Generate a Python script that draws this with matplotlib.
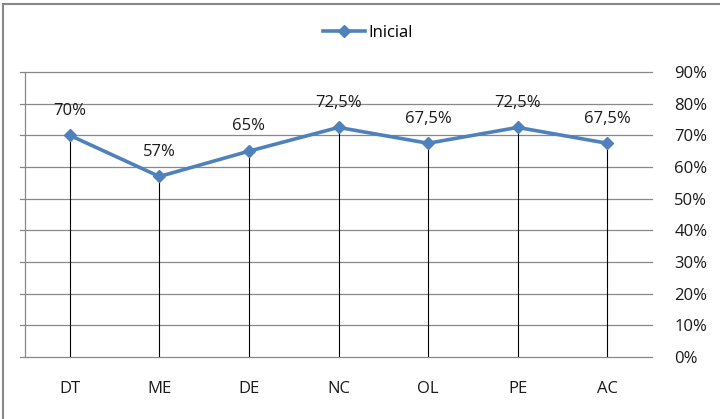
import matplotlib
matplotlib.use("Agg")
import matplotlib.pyplot as plt
from matplotlib.patches import Rectangle

categories = ["DT", "ME", "DE", "NC", "OL", "PE", "AC"]
values = [70, 57, 65, 72.5, 67.5, 72.5, 67.5]
labels = ["70%", "57%", "65%", "72,5%", "67,5%", "72,5%", "67,5%"]
yticks = [0, 10, 20, 30, 40, 50, 60, 70, 80, 90]
series_name = "Inicial"

plt.rcParams['font.family'] = ['Open Sans', 'DejaVu Sans']

fig = plt.figure(figsize=(7.2, 4.19), dpi=100)
# plot area (gridlines) from x=20 to 652, category band from 25 to 652
ax = fig.add_axes([20/720, 1-357/419, (652-20)/720, (357-72)/419])

color = "#4F81BD"
x = list(range(len(categories)))
n = len(categories)
step_px = (652 - 25) / n
extra = 5 / step_px

for xi, v in zip(x, values):
    ax.plot([xi, xi], [0, v], color="#000000", lw=0.8, zorder=2)

line, = ax.plot(x, values, color=color, lw=2.6, marker="D", markersize=6.5,
                markeredgecolor=color, zorder=3, label=series_name)

for xi, v, lab in zip(x, values, labels):
    ax.annotate(lab, (xi, v), xytext=(0, 12), textcoords="offset points",
                ha="center", va="bottom", fontsize=12, color="#1a1a1a")

ax.set_xlim(-0.5 - extra, n - 0.5)
ax.set_ylim(0, 90)
ax.axvline(-0.5, color="#888888", lw=0.9, zorder=1)
ax.set_yticks(yticks)
ax.set_yticklabels([f"{t}%" for t in yticks])
ax.yaxis.tick_right()
ax.set_xticks(x)
ax.set_xticklabels(categories)
ax.tick_params(axis="both", length=0, labelsize=12, colors="#1a1a1a")
ax.tick_params(axis="y", pad=16)
ax.tick_params(axis="x", pad=17)

ax.grid(axis="y", color="#888888", lw=0.9, zorder=0)
for gl in ax.get_ygridlines():
    gl.set_clip_on(False)
for s in ["top", "right", "bottom", "left"]:
    ax.spines[s].set_visible(False)

fig.legend(handles=[line], labels=[series_name], loc="center",
           bbox_to_anchor=(368/720, 1-33/419), frameon=False, fontsize=12,
           handlelength=2.5, handletextpad=0.2)

fig.patches.append(Rectangle((3/720, -20/419), 760/720, (414.5+20)/419,
                             transform=fig.transFigure,
                             fill=False, edgecolor="#888888", lw=1.5))

fig.savefig("out.png", dpi=100)
